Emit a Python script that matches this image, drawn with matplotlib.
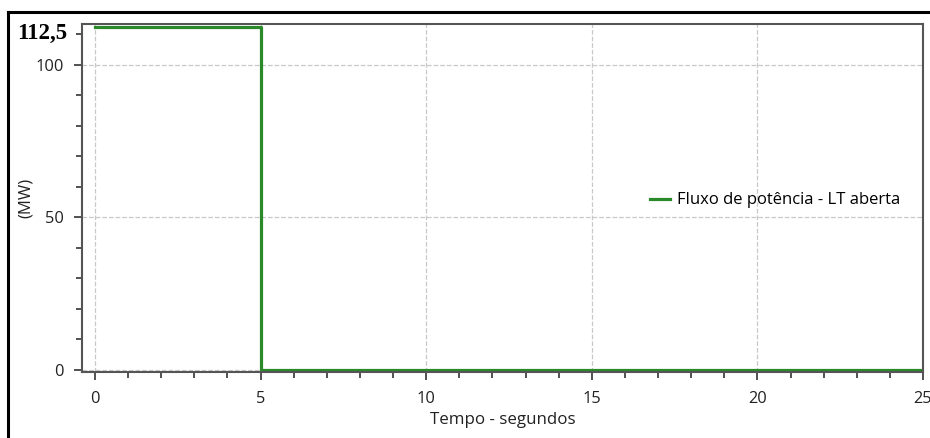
import matplotlib
matplotlib.use('Agg')
import matplotlib.pyplot as plt
from matplotlib.lines import Line2D
from matplotlib.ticker import MultipleLocator

# Dados da simulação
tempo = [0, 5, 5, 25]
potencia = [112.5, 112.5, 0, 0]
rotulo_serie = 'Fluxo de potência - LT aberta'
valor_max = '112,5'

plt.rcParams['font.family'] = ['Open Sans', 'DejaVu Sans']

fig = plt.figure(figsize=(9.3, 4.38), dpi=100)
ax = fig.add_axes([0.0882, 0.1507, 0.9043, 0.7943])

ax.plot(tempo, potencia, color='#2a8a2a', linewidth=2.3, label=rotulo_serie)

ax.set_xlim(-0.39, 25)
ax.set_ylim(-0.66, 113.4)
ax.xaxis.set_major_locator(MultipleLocator(5))
ax.xaxis.set_minor_locator(MultipleLocator(1))
ax.yaxis.set_major_locator(MultipleLocator(50))
ax.yaxis.set_minor_locator(MultipleLocator(10))

ax.grid(True, which='major', color='#c8c8c8', linestyle='--', linewidth=0.9)
ax.tick_params(which='major', length=6, width=1.2, color='#333333', labelsize=11.8, labelcolor='#222222')
ax.tick_params(which='minor', length=4, width=1.2, color='#333333')
ax.tick_params(axis='x', pad=8)
ax.tick_params(axis='y', pad=7)
for s in ax.spines.values():
    s.set_color('#555555')
    s.set_linewidth(1.5)

ax.set_xlabel('Tempo - segundos', fontsize=12.2, color='#222222', labelpad=3)
ax.set_ylabel('(MW)', fontsize=12, color='#222222')
ax.yaxis.set_label_coords(-0.057, 0.5)

ax.legend(loc='center left', bbox_to_anchor=(0.657, 0.493), frameon=False,
          fontsize=12, handlelength=1.2, handletextpad=0.45)

# Valor máximo destacado
fig.text(17 / 930, 1 - 33 / 438, valor_max, fontsize=16.5, fontweight='bold',
         family='Liberation Serif', va='center', ha='left')

# Moldura externa
fig.add_artist(Line2D([8 / 930, 1], [1 - 12 / 438, 1 - 12 / 438], color='black', linewidth=2.2))
fig.add_artist(Line2D([8 / 930, 8 / 930], [0, 1 - 12 / 438], color='black', linewidth=2.2))

plt.savefig('out.png', dpi=100)
plt.close()
